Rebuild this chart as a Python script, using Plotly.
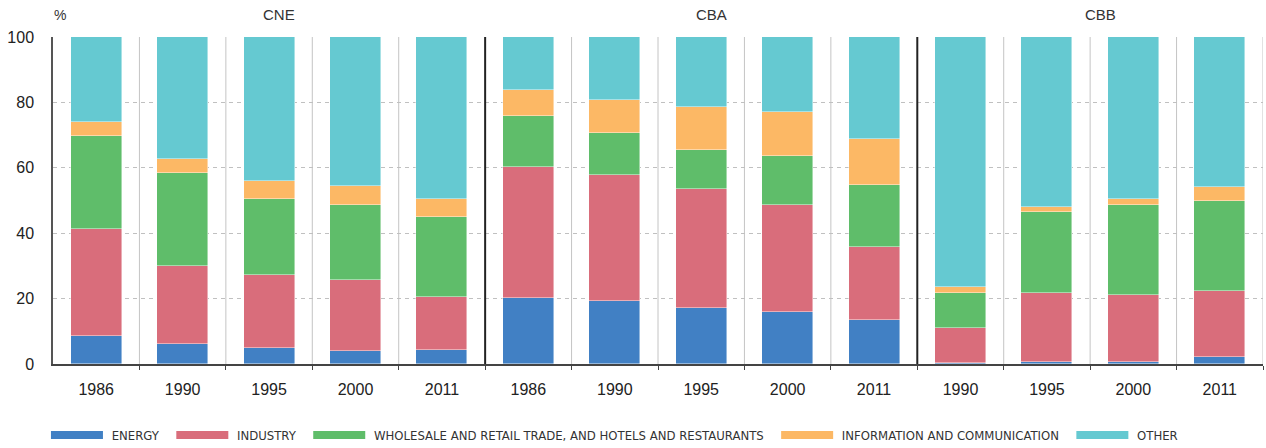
import plotly.graph_objects as go

groups = ["CNE", "CBA", "CBB"]
group_years = [
    ["1986", "1990", "1995", "2000", "2011"],
    ["1986", "1990", "1995", "2000", "2011"],
    ["1990", "1995", "2000", "2011"],
]
series_names = ["ENERGY", "INDUSTRY", "WHOLESALE AND RETAIL TRADE, AND HOTELS AND RESTAURANTS",
                "INFORMATION AND COMMUNICATION", "OTHER"]
colors = ["#4180C4", "#D96D7B", "#5FBD6A", "#FCB865", "#65C9D1"]

energy = [8.6, 6.0, 4.8, 3.9, 4.2, 20.1, 19.4, 17.0, 16.0, 13.4, 0.3, 0.7, 0.7, 2.0]
industry = [32.6, 24.0, 22.4, 21.7, 16.2, 40.1, 38.4, 36.4, 32.6, 22.5, 10.7, 20.9, 20.5, 20.2]
wholesale = [28.6, 28.5, 23.3, 23.1, 24.7, 15.5, 12.7, 11.9, 15.1, 18.9, 10.7, 25.0, 27.4, 27.8]
infocomm = [4.3, 4.1, 5.5, 5.8, 5.3, 8.2, 10.2, 13.2, 13.3, 14.0, 1.9, 1.5, 1.8, 4.2]
other = [25.9, 37.4, 44.0, 45.5, 49.6, 16.1, 19.3, 21.5, 23.0, 31.2, 76.4, 51.9, 49.6, 45.8]
series = [energy, industry, wholesale, infocomm, other]

years = [y for g in group_years for y in g]
xpos = list(range(len(years)))
n = len(years)

fig = go.Figure()
for name, vals, col in zip(series_names, series, colors):
    fig.add_trace(go.Bar(
        x=xpos, y=vals, name=name, width=0.59, showlegend=False,
        marker=dict(color=col, line=dict(color="rgba(255,255,255,0.55)", width=0.8)),
    ))
# legend entries (wide flat swatches)
for name, col in zip(series_names, colors):
    fig.add_trace(go.Scatter(x=[None], y=[None], mode="lines",
                             name="\u00a0" + name + "\u00a0\u00a0",
                             line=dict(color=col, width=8)))

# separators
shapes = []
group_ends = []
acc = 0
for g in group_years:
    acc += len(g)
    group_ends.append(acc)
boundaries = [i - 0.5 for i in range(1, n + 1)]
for i, xb in zip(range(1, n + 1), boundaries):
    if i in group_ends[:-1]:
        shapes.append(dict(type="line", xref="x", yref="y", x0=xb, x1=xb, y0=0, y1=100,
                           line=dict(color="#222222", width=2), layer="above"))
    else:
        shapes.append(dict(type="line", xref="x", yref="y", x0=xb, x1=xb, y0=0, y1=100,
                           line=dict(color="#c4c4c4", width=1), layer="below"))

annotations = []
start = 0
for g, yrs in zip(groups, group_years):
    center = start + (len(yrs) - 1) / 2
    annotations.append(dict(x=center, y=1.0, xref="x", yref="paper", yshift=23, xshift=10,
                            yanchor="middle", text=g, showarrow=False,
                            font=dict(family="Liberation Sans, Arial", size=15, color="#333333")))
    start += len(yrs)
annotations.append(dict(x=0, y=1.0, xref="paper", yref="paper", xshift=-1, yshift=22,
                        yanchor="middle", text="%", showarrow=False, xanchor="left",
                        font=dict(family="Liberation Sans, Arial", size=14, color="#333333")))

fig.update_layout(
    barmode="stack",
    width=1266, height=448,
    margin=dict(l=53, r=3, t=37, b=84),
    paper_bgcolor="white", plot_bgcolor="white",
    font=dict(family="Liberation Sans, Arial", size=16, color="#222222"),
    shapes=shapes,
    annotations=annotations,
    bargap=0,
    legend=dict(orientation="h", x=0.0363, y=0.029, xref="container", yref="container",
                xanchor="left", yanchor="middle",
                font=dict(family="DejaVu Sans Condensed, Liberation Sans Narrow, Arial", size=13, color="#333333"),
                traceorder="normal", itemwidth=52),
    xaxis=dict(range=[-0.5, n - 0.5], tickmode="array", tickvals=xpos, ticktext=years,
               showgrid=False, showline=True, linecolor="#444444", linewidth=1.5,
               ticks="", zeroline=False, automargin=False, ticklabelstandoff=10,
               minor=dict(tickmode="array", tickvals=boundaries, ticks="outside",
                          ticklen=4, tickcolor="#444444", showgrid=False),
               tickfont=dict(size=16, color="#222222")),
    yaxis=dict(range=[0, 100], tickvals=[0, 20, 40, 60, 80, 100], showgrid=True,
               gridcolor="#c0c0c0", griddash="4px,4px", gridwidth=1,
               showline=True, linecolor="#555555", linewidth=1.5, ticks="",
               ticklabelstandoff=14, zeroline=False, automargin=False,
               tickfont=dict(size=16, color="#222222")),
)

fig.write_html("out.html", config={"displayModeBar": False},
               post_script="document.body.style.margin='0';document.body.style.padding='0';")
